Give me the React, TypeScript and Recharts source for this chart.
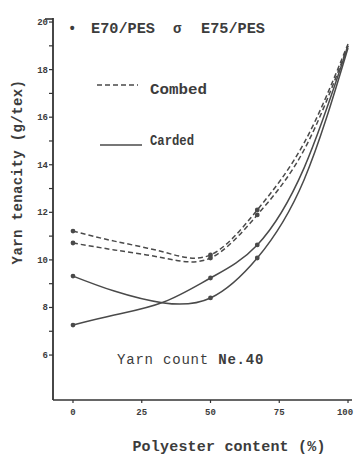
import React from 'react';
import { LineChart, Line, XAxis, YAxis, Customized } from 'recharts';

// Polyester content (%) at which tenacity was read
const polyesterContent = [0, 15, 33, 50, 67, 84, 100];
// Yarn tenacity (g/tex), Ne 40 yarns
const combedE70 = [11.21, 10.79, 10.33, 10.21, 12.1, 14.91, 19.08];
const combedE75 = [10.71, 10.42, 10.08, 10.08, 11.89, 14.62, 19.0];
const cardedE70 = [9.32, 8.69, 8.19, 8.4, 10.08, 13.36, 18.91];
const cardedE75 = [7.26, 7.68, 8.23, 9.24, 10.63, 13.86, 19.0];

const xTicks = [0, 25, 50, 75, 100];
const yTicks = [6, 7, 8, 9, 10, 11, 12, 13, 14, 15, 16, 17, 18, 19, 20];
const yLabelled = [6, 8, 10, 12, 14, 16, 18, 20];

const data = polyesterContent.map((x, i) => ({
  x,
  combedE70: combedE70[i],
  combedE75: combedE75[i],
  cardedE70: cardedE70[i],
  cardedE75: cardedE75[i],
}));

const INK = '#3c3c3c';
const LINE = '#4a4a4a';
const AXIS = '#333333';
const FONT = '"Liberation Mono", "DejaVu Sans Mono", monospace';

const X_DOMAIN: [number, number] = [-7.27, 101.45];
const Y_DOMAIN: [number, number] = [4.11, 20.17];

const markedIdx = [0, 3, 4];
const makeDot = (props: any) => {
  const { cx, cy, index } = props;
  if (!markedIdx.includes(index)) return <g key={`d${index}`} />;
  return <circle key={`d${index}`} cx={cx} cy={cy} r={2.4} fill={LINE} />;
};

const XTick = ({ x, y, payload }: any) => (
  <text x={x} y={y + 10} textAnchor="middle" fontFamily={FONT} fontWeight="bold" fontSize={9} fill={INK}>
    {payload.value}
  </text>
);

const YTick = ({ x, y, payload }: any) =>
  yLabelled.includes(payload.value) ? (
    <text x={x + 1} y={y + 3} textAnchor="end" fontFamily={FONT} fontWeight="bold" fontSize={9} fill={INK}>
      {payload.value}
    </text>
  ) : (
    <g />
  );

// Legend and captions
const Annotations = () => (
  <g fontFamily={FONT} fontWeight="bold" fill={INK}>
    <line x1={45} y1={19} x2={53} y2={19} stroke={AXIS} strokeWidth={1.6} />

    <text x={68} y={33} fontSize={14}>•</text>
    <text x={91} y={33} fontSize={14} textLength={64} lengthAdjust="spacingAndGlyphs">E70/PES</text>
    <text x={173} y={33} fontSize={14}>σ</text>
    <text x={201} y={33} fontSize={14} textLength={64} lengthAdjust="spacingAndGlyphs">E75/PES</text>

    <line x1={97} y1={85} x2={138} y2={85} stroke={LINE} strokeWidth={1.6} strokeDasharray="5 3" />
    <text x={150} y={94} fontSize={14} textLength={57} lengthAdjust="spacingAndGlyphs">Combed</text>
    <line x1={100} y1={145} x2={142} y2={145} stroke={LINE} strokeWidth={1.6} />
    <text x={150} y={145} fontSize={14} textLength={44} lengthAdjust="spacingAndGlyphs">Carded</text>

    <text x={117} y={364} fontSize={14} letterSpacing={0.8} fontWeight="normal">
      Yarn count <tspan fontWeight="bold">Ne.40</tspan>
    </text>
    <text x={229} y={451} fontSize={15} textAnchor="middle" letterSpacing={0.2}>
      Polyester content (%)
    </text>
    <text x={0} y={0} fontSize={14} textAnchor="middle" letterSpacing={0.4}
      transform="translate(22,172) rotate(-90)">
      Yarn tenacity (g/tex)
    </text>
  </g>
);

export default function App() {
  return (
    <div style={{ position: 'absolute', left: 0, top: 0, background: '#fff' }}>
      <LineChart
        width={357}
        height={455}
        data={data}
        margin={{ top: 18, right: 5, bottom: 10, left: 13 }}
      >
        <XAxis
          type="number"
          dataKey="x"
          domain={X_DOMAIN}
          ticks={xTicks}
          allowDataOverflow
          axisLine={{ stroke: AXIS, strokeWidth: 1.6 }}
          tickLine={{ stroke: AXIS, strokeWidth: 1.2 }}
          tickSize={3}
          height={45}
          tick={<XTick />}
        />
        <YAxis
          type="number"
          domain={Y_DOMAIN}
          ticks={yTicks}
          allowDataOverflow
          axisLine={{ stroke: AXIS, strokeWidth: 1.8 }}
          tickLine={{ stroke: AXIS, strokeWidth: 1.2 }}
          tickSize={4}
          width={40}
          tick={<YTick />}
        />
        <Line type="natural" dataKey="combedE70" stroke={LINE} strokeWidth={1.5} strokeDasharray="5 3" dot={makeDot} isAnimationActive={false} />
        <Line type="natural" dataKey="combedE75" stroke={LINE} strokeWidth={1.5} strokeDasharray="5 3" dot={makeDot} isAnimationActive={false} />
        <Line type="natural" dataKey="cardedE70" stroke={LINE} strokeWidth={1.5} dot={makeDot} isAnimationActive={false} />
        <Line type="natural" dataKey="cardedE75" stroke={LINE} strokeWidth={1.5} dot={makeDot} isAnimationActive={false} />
        <Customized component={Annotations} />
      </LineChart>
    </div>
  );
}
